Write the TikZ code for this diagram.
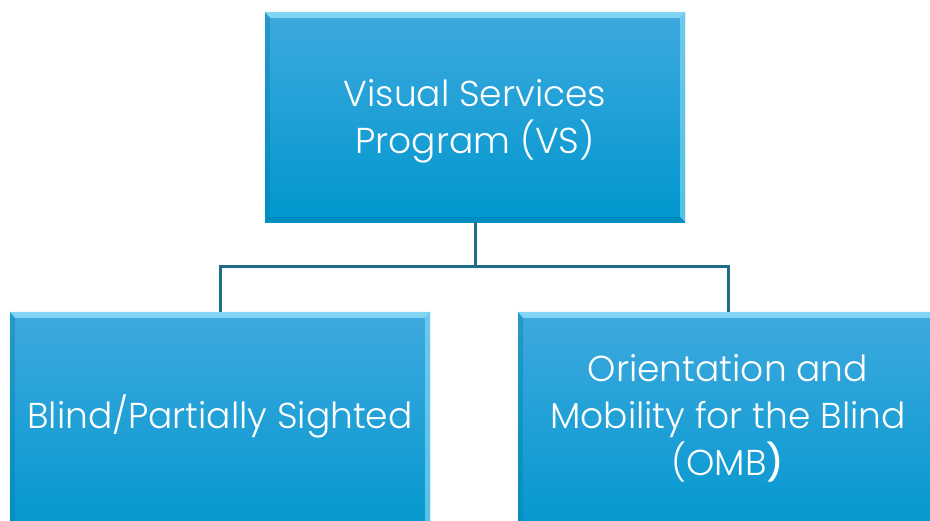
\documentclass[tikz,border=0pt]{standalone}
\usepackage{fontspec}
\setmainfont{Poppins}[UprightFont={* Light},BoldFont={* Medium}]
\begin{document}
\begin{tikzpicture}[x=1pt,y=-1pt,
  box/.style={rectangle, minimum width=420pt, minimum height=210pt, inner sep=0pt,
    top color=boxtop, bottom color=boxbot},
  label/.style={text=white, align=center, font=\fontsize{36}{47}\selectfont},
  conn/.style={draw=linec, line width=3pt},
  bevtop/.style={fill=bevlight, opacity=0.85},
  bevside/.style={fill=bevlight, opacity=0.6},
  bevdark/.style={fill=boxbot!80!black, opacity=0.35}]
\definecolor{boxtop}{HTML}{3EA9DE}
\definecolor{boxbot}{HTML}{0097CE}
\definecolor{bevlight}{HTML}{8EDDF7}
\definecolor{linec}{HTML}{1F6D8A}
\useasboundingbox (0,0) rectangle (930,520);
\clip (0,0) rectangle (930,520);
\node[box] (vs) at (475,117) {};
\node[box, minimum height=230pt] (bps) at (220,427) {};
\node[box, minimum height=230pt] (omb) at (728,427) {};
\node[label] (vst) at (475,121) {Visual Services\\Program (VS)};
\node[label] (bpst) at (220,416) {Blind/Partially Sighted};
\node[label] (ombt) at (728,418) {Orientation and\\Mobility for the Blind\\(OMB\textbf{)}};
\foreach \n in {vs,bps,omb}{
  \fill[bevtop] (\n.north west) -- (\n.north east) -- ([xshift=-5pt,yshift=-6pt]\n.north east) -- ([xshift=5pt,yshift=-6pt]\n.north west) -- cycle;
  \fill[bevside] (\n.north east) -- (\n.south east) -- ([xshift=-5pt,yshift=5pt]\n.south east) -- ([xshift=-5pt,yshift=-6pt]\n.north east) -- cycle;
  \fill[bevdark] (\n.north west) -- ([xshift=5pt,yshift=-6pt]\n.north west) -- ([xshift=5pt,yshift=5pt]\n.south west) -- (\n.south west) -- cycle;
  \fill[bevdark] (\n.south west) -- ([xshift=5pt,yshift=5pt]\n.south west) -- ([xshift=-5pt,yshift=5pt]\n.south east) -- (\n.south east) -- cycle;
}
\coordinate (mid) at (475,266);
\draw[conn] (vs.south) -- (mid) -| (bps.north);
\draw[conn] (mid) -| (omb.north);
\end{tikzpicture}
\end{document}
